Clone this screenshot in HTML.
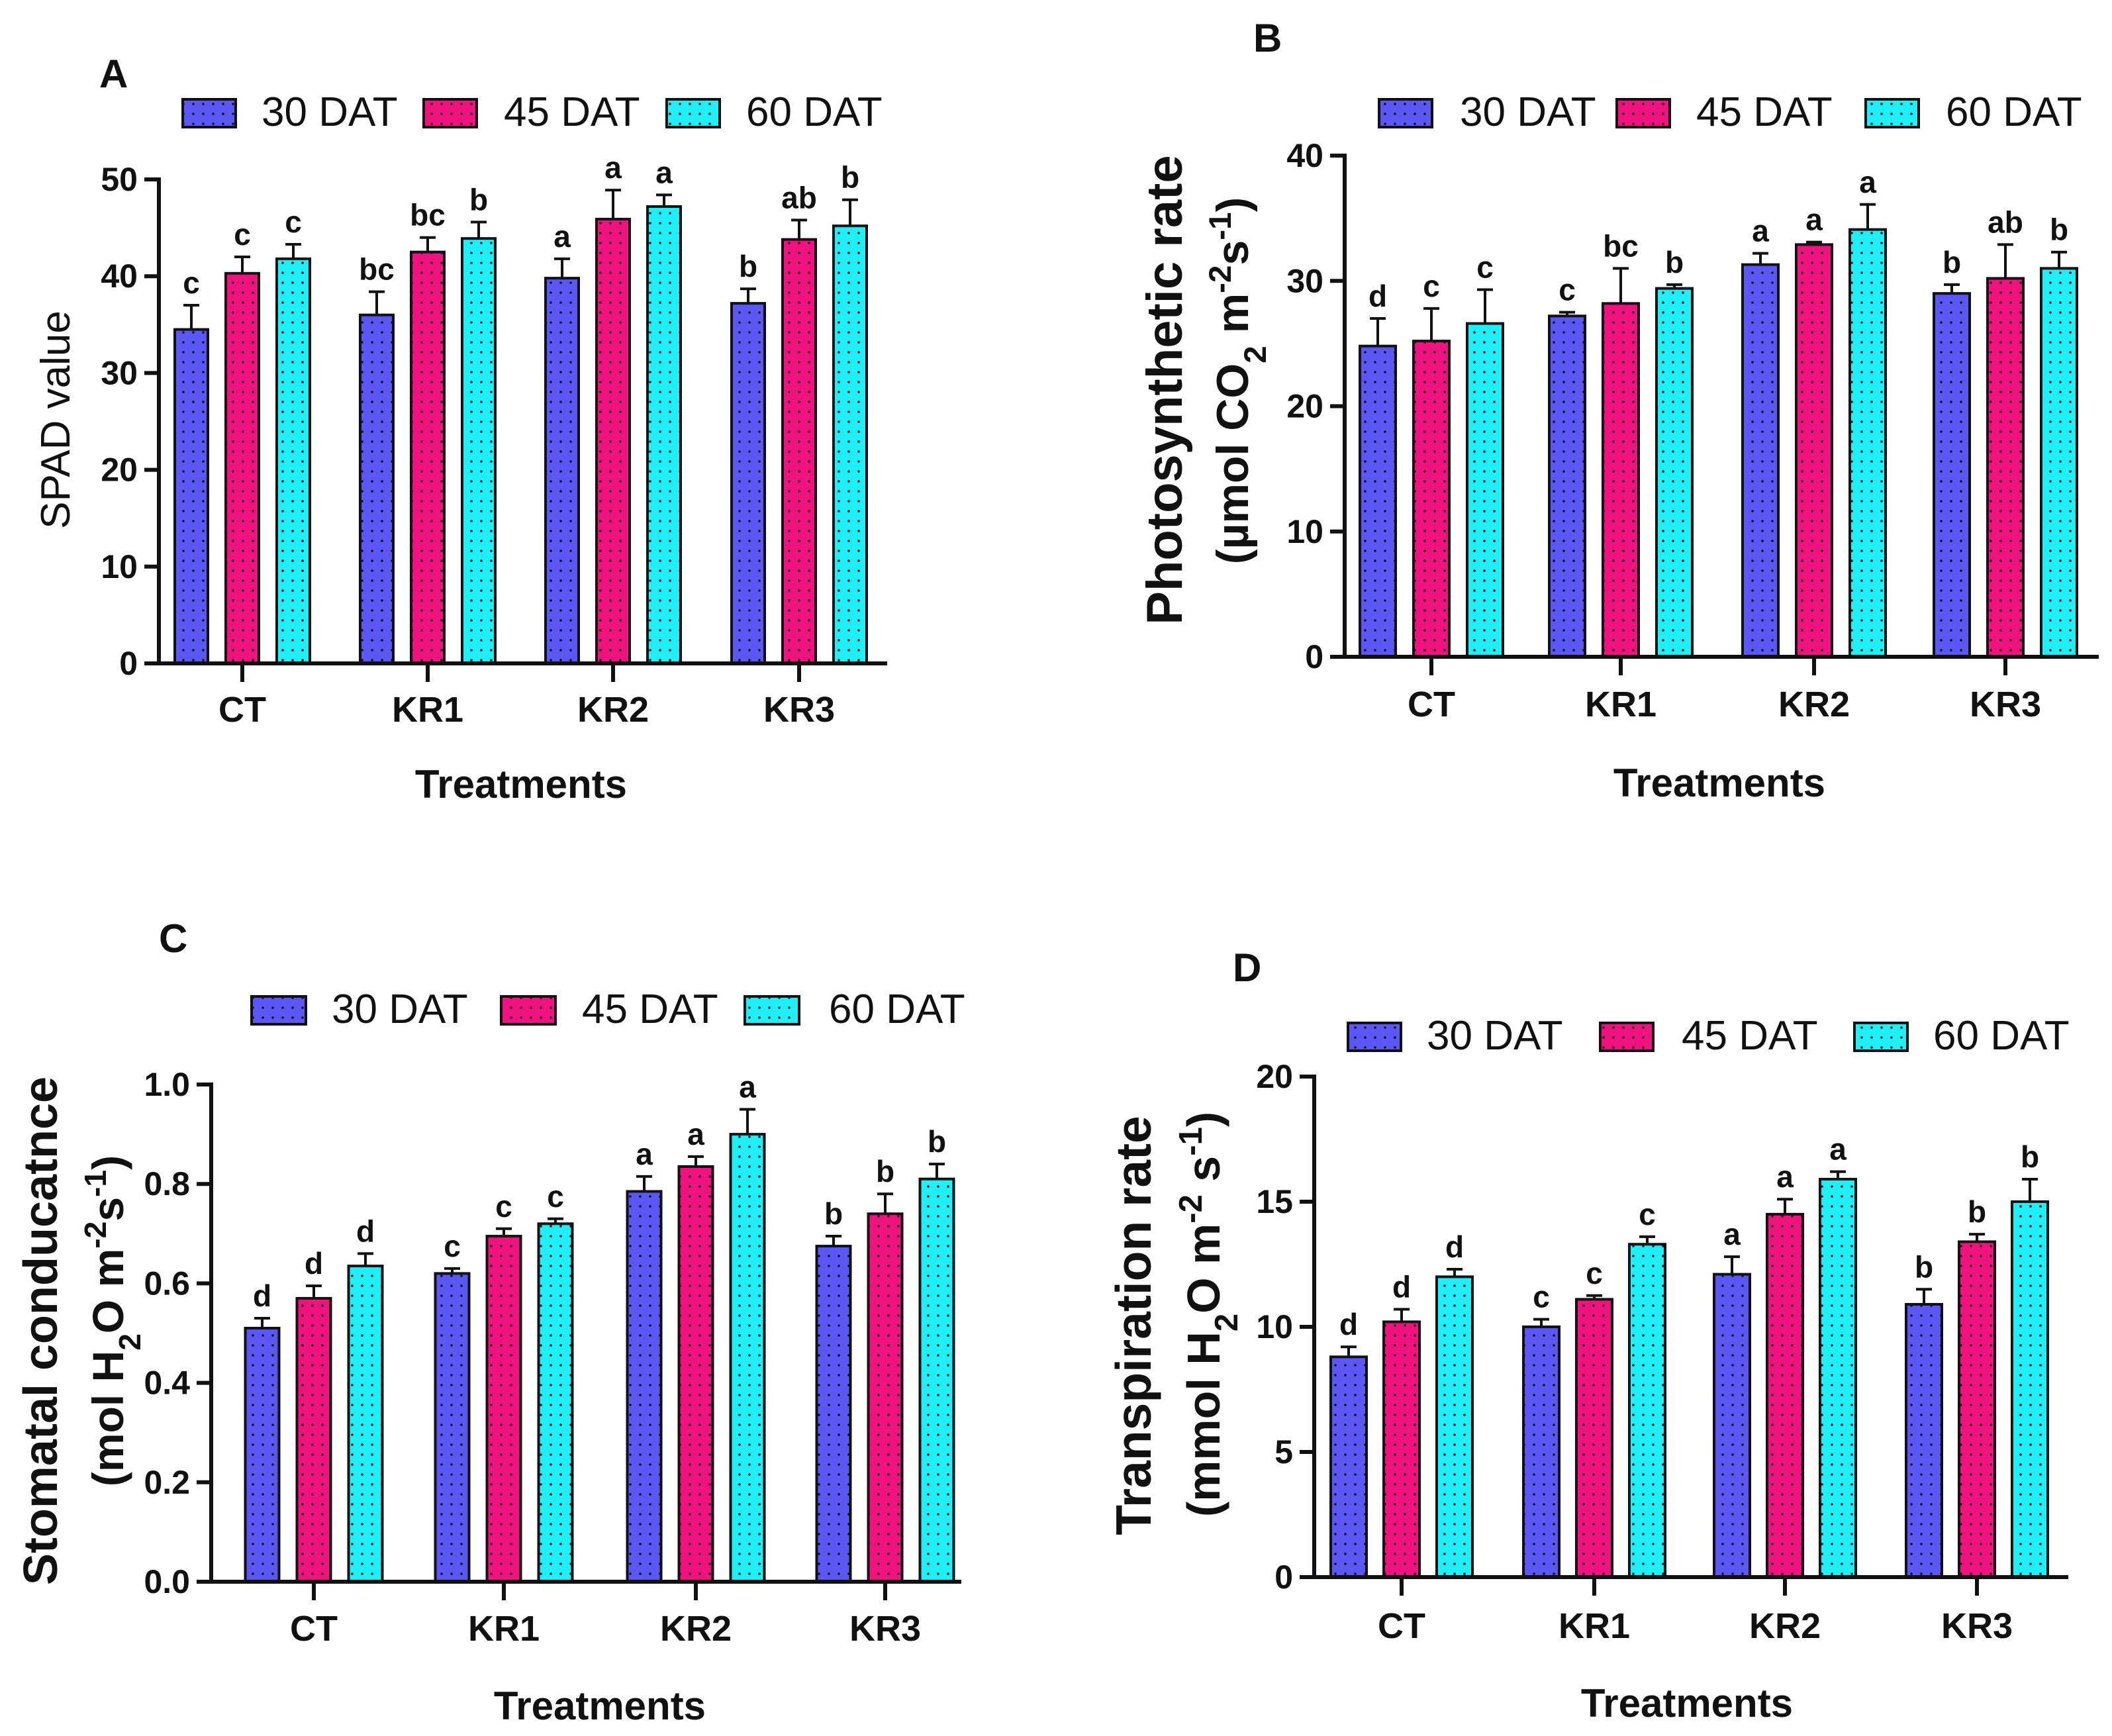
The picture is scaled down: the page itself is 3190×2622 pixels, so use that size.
<!DOCTYPE html>
<html><head><meta charset="utf-8"><style>
html,body{margin:0;padding:0;background:#fff}
svg{display:block}
text{font-family:"Liberation Sans",Arial,sans-serif;fill:#111}
</style></head><body>
<svg id="chart" width="3190" height="2622" viewBox="0 0 3190 2622" xmlns="http://www.w3.org/2000/svg">
<defs>
<pattern id="p0" width="15" height="15" patternUnits="userSpaceOnUse"><rect width="15" height="15" fill="#5b57f5"/><circle cx="7" cy="7" r="1.8" fill="#111"/></pattern>
<pattern id="p1" width="15" height="15" patternUnits="userSpaceOnUse"><rect width="15" height="15" fill="#f0137f"/><circle cx="7" cy="7" r="1.8" fill="#111"/></pattern>
<pattern id="p2" width="15" height="15" patternUnits="userSpaceOnUse"><rect width="15" height="15" fill="#1ff0f8"/><circle cx="7" cy="7" r="1.8" fill="#111"/></pattern>
</defs>
</svg>
<script>
const categories = ["CT","KR1","KR2","KR3"];
const seriesNames = ["30 DAT","45 DAT","60 DAT"];

const spad30 = [34.5,36,39.8,37.2], spad45 = [40.3,42.5,45.9,43.8], spad60 = [41.8,43.9,47.2,45.2];
const spadErr30 = [2.5,2.4,2,1.5], spadErr45 = [1.7,1.5,3,2], spadErr60 = [1.5,1.7,1.2,2.7];
const spadLetters = [["c","c","c"],["bc","bc","b"],["a","a","a"],["b","ab","b"]];
const spadTicks = [0,10,20,30,40,50];

const photo30 = [24.8,27.2,31.3,29], photo45 = [25.2,28.2,32.9,30.2], photo60 = [26.6,29.4,34.1,31];
const photoErr30 = [2.2,0.3,0.9,0.7], photoErr45 = [2.6,2.8,0.2,2.7], photoErr60 = [2.7,0.3,2,1.3];
const photoLetters = [["d","c","c"],["c","bc","b"],["a","a","a"],["b","ab","b"]];
const photoTicks = [0,10,20,30,40];

const stom30 = [0.51,0.62,0.785,0.675], stom45 = [0.57,0.695,0.835,0.74], stom60 = [0.635,0.72,0.9,0.81];
const stomErr30 = [0.02,0.01,0.03,0.02], stomErr45 = [0.025,0.015,0.02,0.04], stomErr60 = [0.025,0.01,0.05,0.03];
const stomLetters = [["d","d","d"],["c","c","c"],["a","a","a"],["b","b","b"]];
const stomTicks = [0,0.2,0.4,0.6,0.8,1.0];
const stomTickLabels = ["0.0","0.2","0.4","0.6","0.8","1.0"];

const trans30 = [8.8,10,12.1,10.9], trans45 = [10.2,11.1,14.5,13.4], trans60 = [12,13.3,15.9,15];
const transErr30 = [0.4,0.3,0.7,0.6], transErr45 = [0.5,0.15,0.6,0.3], transErr60 = [0.3,0.3,0.3,0.9];
const transLetters = [["d","d","d"],["c","c","c"],["a","a","a"],["b","b","b"]];
const transTicks = [0,5,10,15,20];

const svg = document.getElementById('chart');
const NS = "http://www.w3.org/2000/svg";
function mk(tag, attrs, parent, txt){
  const e = document.createElementNS(NS, tag);
  for (const k in attrs) e.setAttribute(k, attrs[k]);
  if (txt !== undefined) e.textContent = txt;
  (parent||svg).appendChild(e);
  return e;
}

function panel(cfg){
  const g = mk('g', {});
  
  
  const yScale = v => cfg.y0 + (v - cfg.ymin) / (cfg.ymax - cfg.ymin) * (cfg.y1 - cfg.y0);
  const pl = mk('text', {x:cfg.letter[0], y:cfg.letter[1], 'font-size':60, 'font-weight':'bold'}, g, cfg.letter[2]);
  
  
  for (let s=0;s<3;s++){
    const lg = mk('g', {}, g);
    
    
    mk('rect', {x:cfg.legBox[s], y:cfg.legY, width:cfg.legW, height:cfg.legH, fill:'url(#p'+s+')', stroke:'#111', 'stroke-width':4}, lg);
    mk('text', {x:cfg.legText[s], y:cfg.legY + cfg.legH - 2, 'font-size':62}, lg, seriesNames[s]);
  }
  const vals = cfg.vals, errs = cfg.errs;
  for (let c=0;c<categories.length;c++){
    const cx = cfg.cat[c];
    for (let s=0;s<3;s++){
      const bx = cx + (s-1)*cfg.d - cfg.w/2;
      const top = yScale(vals[s][c]);
      const r = mk('rect', {x:bx, y:top, width:cfg.w, height:cfg.y0 - top, fill:'url(#p'+s+')', stroke:'#111', 'stroke-width':4}, g);
      
      
      const et = yScale(vals[s][c] + errs[s][c]);
      const ec = bx + cfg.w/2;
      const eb = mk('path', {d:`M${ec} ${top} V${et} M${ec-12} ${et} H${ec+12}`, stroke:'#111', 'stroke-width':4, fill:'none'}, g);
      
      
      const lt = mk('text', {x:ec, y:et - 18, 'font-size':46, 'font-weight':'bold', 'text-anchor':'middle'}, g, cfg.letters[c][s]);
      
      
    }
    mk('line', {x1:cx, x2:cx, y1:cfg.y0, y2:cfg.y0+28, stroke:'#111', 'stroke-width':6}, g);
    const cl = mk('text', {x:cx, y:cfg.catY, 'font-size':54, 'font-weight':'bold', 'text-anchor':'middle'}, g, categories[c]);
    
    
  }
  const ya = mk('line', {x1:cfg.ax, x2:cfg.ax, y1:cfg.y0+3, y2:cfg.y1-3, stroke:'#111', 'stroke-width':6}, g);
  
  
  const xa = mk('line', {x1:cfg.ax - 22, x2:cfg.xend, y1:cfg.y0, y2:cfg.y0, stroke:'#111', 'stroke-width':6}, g);
  
  
  cfg.ticks.forEach((t,i)=>{
    const y = yScale(t);
    mk('line', {x1:cfg.ax-22, x2:cfg.ax, y1:y, y2:y, stroke:'#111', 'stroke-width':6}, g);
    const tl = mk('text', {x:cfg.ax-32, y:y+17, 'font-size':50, 'font-weight':'bold', 'text-anchor':'end'}, g, cfg.tickLabels ? cfg.tickLabels[i] : String(t));
    
    
  });
  const xt = mk('text', {x:cfg.xTitle[0], y:cfg.xTitle[1], 'font-size':60, 'font-weight':'bold', 'text-anchor':'middle'}, g, 'Treatments');
  
  
  cfg.yTitle(g);
}

function rotText(g, x, y, size, bold, parts, name){
  const t = mk('text', {x:0, y:0, transform:`translate(${x},${y}) rotate(-90)`, 'font-size':size, 'font-weight':bold?'bold':'normal', 'text-anchor':'middle'}, g);
  
  
  parts.forEach(p=>{
    const ts = mk('tspan', {}, t, p[0]);
    if (p[1]==='sub') { ts.setAttribute('baseline-shift','sub'); ts.setAttribute('font-size', size*0.7); }
    if (p[1]==='sup') { ts.setAttribute('baseline-shift','super'); ts.setAttribute('font-size', size*0.7); }
  });
}

panel({name:'panel-a-spad', letter:[150,132,'A'], legY:150, legH:42, legW:80, legBox:[276,640,1007], legText:[395,761,1127],
  ax:240, xend:1340, y0:1002, y1:271, ymin:0, ymax:50, ticks:spadTicks, cat:[366,646,926,1207], d:77, w:50, catY:1090,
  vals:[spad30,spad45,spad60], errs:[spadErr30,spadErr45,spadErr60], letters:spadLetters, xTitle:[787,1205],
  yTitle:g=>rotText(g, 105, 634, 62, false, [['SPAD value']], 'y-axis-title')});

panel({name:'panel-b-photosynthesis', letter:[1893,78,'B'], legY:150, legH:42, legW:80, legBox:[2083,2442,2818], legText:[2205,2562,2939],
  ax:2031, xend:3170, y0:992, y1:235, ymin:0, ymax:40, ticks:photoTicks, cat:[2162,2448,2740,3029], d:81, w:54, catY:1082,
  vals:[photo30,photo45,photo60], errs:[photoErr30,photoErr45,photoErr60], letters:photoLetters, xTitle:[2597,1203],
  yTitle:g=>{ rotText(g, 1785, 589, 76, true, [['Photosynthetic rate']], 'y-axis-title');
    rotText(g, 1885, 575, 68, true, [['(µmol CO'],['2','sub'],[' m'],['-2','sup'],['s'],['-1','sup'],[')']], 'y-axis-unit'); }});

panel({name:'panel-c-stomatal', letter:[240,1438,'C'], legY:1505, legH:42, legW:82, legBox:[380,757,1125], legText:[501,879,1252],
  ax:319, xend:1452, y0:2389, y1:1638, ymin:0, ymax:1, ticks:stomTicks, tickLabels:stomTickLabels, cat:[474,761,1051,1337], d:78, w:51, catY:2478,
  vals:[stom30,stom45,stom60], errs:[stomErr30,stomErr45,stomErr60], letters:stomLetters, xTitle:[906,2597],
  yTitle:g=>{ rotText(g, 86, 2010, 72, true, [['Stomatal conducatnce']], 'y-axis-title');
    rotText(g, 186, 1995, 66, true, [['(mol H'],['2','sub'],['O m'],['-2','sup'],['s'],['-1','sup'],[')']], 'y-axis-unit'); }});

panel({name:'panel-d-transpiration', letter:[1862,1482,'D'], legY:1545, legH:42, legW:80, legBox:[2036,2417,2801], legText:[2155,2540,2920],
  ax:1985, xend:3124, y0:2382, y1:1626, ymin:0, ymax:20, ticks:transTicks, cat:[2117,2408,2696,2986], d:80, w:54, catY:2474,
  vals:[trans30,trans45,trans60], errs:[transErr30,transErr45,transErr60], letters:transLetters, xTitle:[2548,2593],
  yTitle:g=>{ rotText(g, 1738, 2002, 75, true, [['Transpiration rate']], 'y-axis-title');
    rotText(g, 1842, 1985, 70, true, [['(mmol H'],['2','sub'],['O m'],['-2','sup'],[' s'],['-1','sup'],[')']], 'y-axis-unit'); }});
</script>
</body></html>
